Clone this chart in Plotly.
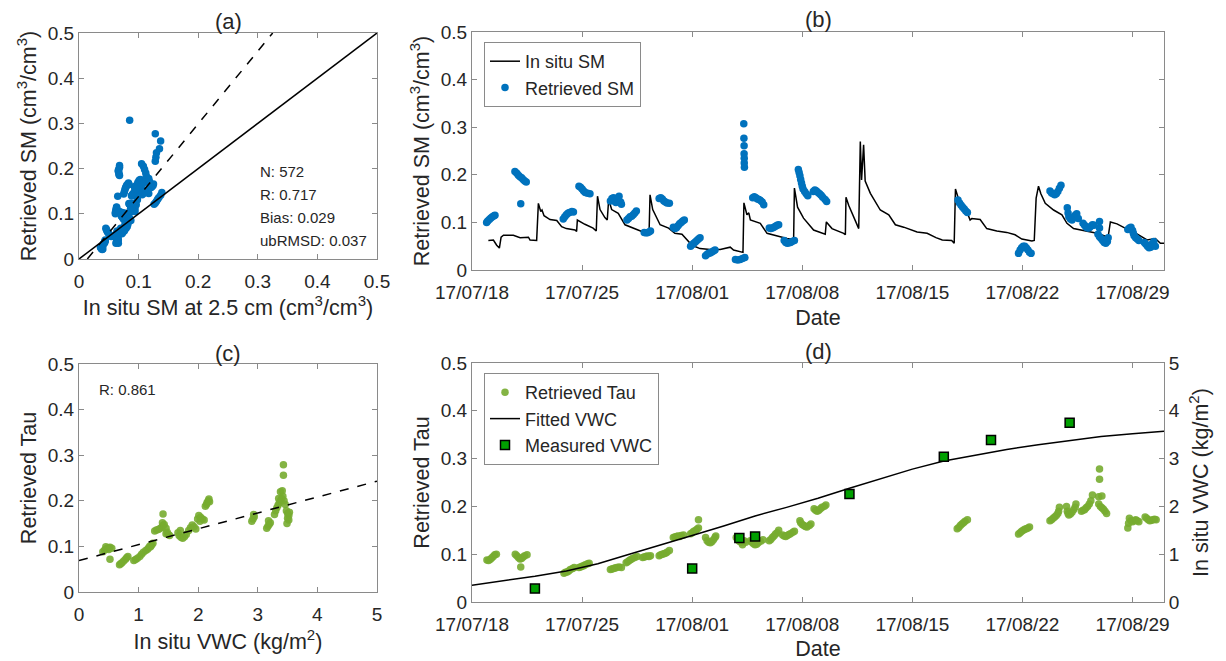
import numpy as np
import pandas as pd
import plotly.graph_objects as go

start = pd.Timestamp("2017-07-18")

# ---- (b) in situ SM time series (day offset from 17/07/18, cm3/cm3)
insitu_day = [1.04, 1.36, 1.57, 1.74, 1.85, 2.0, 2.63, 3.06, 3.59, 3.69, 4.11, 4.22, 4.37, 4.45, 4.58,
              4.96, 5.39, 5.7, 6.0, 6.55, 6.65, 6.7, 7.18, 7.7, 7.9, 7.98, 8.14, 8.45, 8.6, 8.69, 8.88,
              9.3, 9.73, 10.26, 10.79, 11.26, 11.32, 11.49, 11.96, 12.5, 12.9, 13.35, 13.67, 13.99, 14.5,
              15.14, 15.78, 16.42, 16.63, 17.23, 17.29, 17.48, 17.6, 17.7, 18.33, 18.76, 19.6, 20.03,
              20.45, 20.5, 20.7, 21.08, 21.72, 22.46, 22.53, 22.89, 23.63, 23.74, 23.78, 23.95, 24.59,
              24.69, 24.77, 24.9, 25.0, 25.33, 25.96, 26.5, 26.92, 27.45, 28.3, 28.94, 29.5, 29.9, 30.5,
              30.66, 30.74, 30.93, 31.46, 31.67, 31.78, 32.31, 32.73, 33.37, 34.0, 34.53, 34.96, 35.6,
              35.75, 35.87, 36.02, 36.17, 36.45, 36.98, 37.51, 37.83, 38.25, 39.1, 39.74, 40.37, 40.45,
              40.59, 41.01, 41.65, 42.28, 42.92, 43.45, 43.77, 44.02]
insitu_sm = [0.062, 0.063, 0.052, 0.046, 0.069, 0.073, 0.073, 0.068, 0.069, 0.063, 0.062, 0.140, 0.123, 0.126, 0.114,
             0.106, 0.104, 0.091, 0.087, 0.084, 0.081, 0.105, 0.096, 0.088, 0.082, 0.155, 0.127, 0.110, 0.105, 0.148, 0.127,
             0.119, 0.095, 0.088, 0.081, 0.080, 0.158, 0.127, 0.095, 0.088, 0.077, 0.075, 0.063, 0.052, 0.045,
             0.043, 0.043, 0.048, 0.042, 0.037, 0.141, 0.116, 0.120, 0.105, 0.098, 0.077, 0.070, 0.066,
             0.064, 0.172, 0.132, 0.109, 0.084, 0.075, 0.101, 0.087, 0.077, 0.074, 0.153, 0.136, 0.087,
             0.270, 0.189, 0.263, 0.187, 0.161, 0.126, 0.116, 0.095, 0.090, 0.080, 0.077, 0.068, 0.063, 0.062,
             0.056, 0.170, 0.150, 0.123, 0.105, 0.108, 0.106, 0.087, 0.082, 0.079, 0.074, 0.065, 0.061,
             0.062, 0.151, 0.176, 0.160, 0.140, 0.126, 0.116, 0.098, 0.087, 0.082, 0.077, 0.070, 0.070,
             0.101, 0.097, 0.086, 0.076, 0.063, 0.066, 0.056, 0.056]

# ---- retrieved SM: time (day offset), retrieved value, in situ value at that time (panel a)
sm_day = [0.93, 1.0, 1.1, 1.2, 1.3, 1.4, 1.46,
          2.73, 2.85, 2.95, 3.05, 3.1, 3.15, 3.25, 3.35, 3.45,
          5.8, 5.9, 6.0, 6.1, 6.2, 6.35, 6.45,
          6.8, 6.9, 7.0, 7.1, 7.2, 7.35, 7.5,
          8.8, 8.9, 9.0, 9.05, 9.15, 9.25, 9.35, 9.45, 9.5,
          9.85, 9.95, 10.05, 10.15, 10.25, 10.35, 10.45,
          10.95, 11.05, 11.15, 11.25, 11.35,
          11.9, 12.0, 12.1, 12.2, 12.3, 12.4, 12.55,
          12.8, 12.9, 13.0, 13.1, 13.2, 13.3, 13.4, 13.5,
          13.9, 14.0, 14.1, 14.2, 14.3, 14.4, 14.5,
          14.85, 14.95, 15.05, 15.15, 15.25, 15.35, 15.45,
          16.75, 16.9, 17.05, 17.2, 17.35,
          17.28, 17.29, 17.30, 17.30, 17.31, 17.31, 17.32,
          17.85, 17.95, 18.05, 18.15, 18.25, 18.35, 18.45, 18.55,
          18.9, 19.0, 19.1, 19.2, 19.3, 19.4, 19.5,
          19.85, 19.95, 20.05, 20.15, 20.25, 20.35, 20.5,
          20.75, 20.8, 20.85, 20.9, 20.95, 21.0, 21.05, 21.15, 21.25, 21.35,
          21.7, 21.8, 21.9, 22.0, 22.1, 22.2, 22.3, 22.45, 22.55,
          30.9, 31.0, 31.1, 31.2, 31.3, 31.4, 31.5,
          34.75, 34.85, 34.95, 35.05, 35.15, 35.25, 35.35, 35.45, 35.55,
          36.75, 36.85, 36.95, 37.05, 37.15, 37.25, 37.35, 37.45,
          37.85, 37.9, 37.95, 38.05, 38.15, 38.25, 38.35, 38.45, 38.55,
          38.85, 38.95, 39.05, 39.15, 39.25, 39.35, 39.45, 39.55,
          39.9, 39.9, 39.8, 39.9, 40.0, 40.1, 40.2, 40.3, 40.4, 40.45,
          41.7, 41.8, 41.9, 42.0, 42.05, 42.1, 42.2, 42.3, 42.4,
          42.75, 42.85, 42.95, 43.05, 43.15, 43.25, 43.35, 43.45]
sm_retrieved = [0.100, 0.103, 0.106, 0.109, 0.112, 0.114, 0.115,
                0.207, 0.203, 0.199, 0.196, 0.139, 0.194, 0.190, 0.187, 0.185,
                0.107, 0.112, 0.116, 0.119, 0.121, 0.123, 0.122,
                0.176, 0.174, 0.170, 0.166, 0.163, 0.161, 0.160,
                0.145, 0.150, 0.152, 0.145, 0.142, 0.148, 0.155, 0.143, 0.138,
                0.105, 0.108, 0.112, 0.113, 0.116, 0.120, 0.124,
                0.079, 0.078, 0.078, 0.080, 0.082,
                0.150, 0.152, 0.149, 0.145, 0.143, 0.141, 0.140,
                0.090, 0.087, 0.089, 0.093, 0.097, 0.100, 0.103, 0.105,
                0.050, 0.053, 0.056, 0.059, 0.062, 0.065, 0.068,
                0.030, 0.033, 0.035, 0.036, 0.038, 0.040, 0.042,
                0.022, 0.021, 0.022, 0.024, 0.026,
                0.307, 0.277, 0.261, 0.244, 0.235, 0.225, 0.216,
                0.152, 0.154, 0.152, 0.149, 0.148, 0.146, 0.143, 0.137,
                0.088, 0.087, 0.088, 0.090, 0.092, 0.094, 0.095,
                0.062, 0.058, 0.056, 0.057, 0.058, 0.060, 0.062,
                0.211, 0.205, 0.198, 0.190, 0.183, 0.176, 0.170, 0.165, 0.160, 0.156,
                0.165, 0.168, 0.166, 0.163, 0.160, 0.157, 0.153, 0.148, 0.144,
                0.147, 0.141, 0.136, 0.132, 0.128, 0.124, 0.121,
                0.035, 0.042, 0.047, 0.050, 0.050, 0.046, 0.042, 0.037, 0.035,
                0.166, 0.162, 0.160, 0.158, 0.160, 0.165, 0.172, 0.178,
                0.131, 0.120, 0.112, 0.107, 0.105, 0.110, 0.115, 0.118, 0.108,
                0.098, 0.094, 0.090, 0.088, 0.089, 0.092, 0.095, 0.094,
                0.102, 0.088, 0.075, 0.070, 0.066, 0.062, 0.058, 0.056, 0.060, 0.068,
                0.085, 0.088, 0.090, 0.083, 0.077, 0.072, 0.068, 0.065, 0.062,
                0.058, 0.054, 0.050, 0.047, 0.048, 0.055, 0.060, 0.050]
sm_insitu = [0.061, 0.061, 0.062, 0.062, 0.063, 0.063, 0.063,
             0.068, 0.068, 0.067, 0.066, 0.065, 0.066, 0.067, 0.067, 0.068,
             0.090, 0.089, 0.087, 0.086, 0.085, 0.084, 0.084,
             0.103, 0.101, 0.099, 0.098, 0.097, 0.095, 0.093,
             0.117, 0.113, 0.110, 0.108, 0.106, 0.104, 0.102, 0.100, 0.098,
             0.094, 0.092, 0.091, 0.090, 0.089, 0.088, 0.088,
             0.081, 0.080, 0.080, 0.080, 0.080,
             0.096, 0.094, 0.093, 0.091, 0.090, 0.089, 0.088,
             0.079, 0.077, 0.077, 0.076, 0.076, 0.075, 0.072, 0.068,
             0.054, 0.052, 0.050, 0.048, 0.047, 0.046, 0.045,
             0.040, 0.041, 0.042, 0.043, 0.043, 0.044, 0.044,
             0.040, 0.039, 0.038, 0.037, 0.036,
             0.085, 0.128, 0.137, 0.135, 0.130, 0.129, 0.128,
             0.105, 0.104, 0.102, 0.101, 0.100, 0.099, 0.098, 0.097,
             0.078, 0.076, 0.075, 0.074, 0.073, 0.072, 0.071,
             0.067, 0.066, 0.066, 0.065, 0.065, 0.064, 0.064,
             0.105, 0.108, 0.110, 0.112, 0.113, 0.112, 0.110, 0.106, 0.100, 0.096,
             0.084, 0.083, 0.082, 0.080, 0.079, 0.078, 0.077, 0.076, 0.075,
             0.139, 0.137, 0.134, 0.132, 0.130, 0.128, 0.126,
             0.066, 0.066, 0.065, 0.065, 0.064, 0.064, 0.063, 0.063, 0.062,
             0.125, 0.124, 0.122, 0.121, 0.120, 0.119, 0.118, 0.117,
             0.098, 0.096, 0.094, 0.092, 0.090, 0.089, 0.088, 0.087, 0.086,
             0.083, 0.082, 0.082, 0.081, 0.080, 0.079, 0.078, 0.077,
             0.076, 0.076, 0.077, 0.076, 0.075, 0.074, 0.073, 0.072, 0.071, 0.070,
             0.087, 0.086, 0.085, 0.083, 0.082, 0.081, 0.079, 0.077, 0.076,
             0.064, 0.064, 0.063, 0.063, 0.065, 0.066, 0.065, 0.060]

# (a) reference lines
one_to_one = [0.0, 0.5]
fit_sm_x = [0.014, 0.325]
fit_sm_y = [0.0, 0.5]
stats_a = ["N: 572", "R: 0.717", "Bias: 0.029", "ubRMSD: 0.037"]

# ---- (c) in situ VWC vs retrieved tau
c_vwc = [0.40, 0.43, 0.46, 0.49, 0.52, 0.55, 0.45, 0.50, 0.52,
         0.68, 0.70, 0.72, 0.75, 0.78, 0.80, 0.82,
         0.92, 0.95, 0.98, 1.02, 1.05, 1.08, 1.12, 1.15,
         1.17, 1.20, 1.22, 1.24, 1.19,
         1.27, 1.30, 1.33, 1.36, 1.39, 1.41, 1.41,
         1.40, 1.43, 1.46, 1.48, 1.50, 1.52, 1.46,
         1.66, 1.68, 1.71, 1.74, 1.77, 1.80, 1.70,
         1.84, 1.87, 1.90, 1.93, 1.96,
         1.99, 2.01, 2.04, 2.07, 2.10, 2.03,
         2.12, 2.14, 2.15, 2.17, 2.18, 2.19,
         2.90, 2.92, 2.94, 2.93,
         3.15, 3.17, 3.19, 3.21, 3.18,
         3.28, 3.30, 3.32, 3.34, 3.36, 3.38, 3.40, 3.42, 3.38, 3.44, 3.46, 3.35, 3.43, 3.43, 3.41,
         3.48, 3.50, 3.52, 3.50, 3.52, 3.49, 3.53]
c_tau = [0.088, 0.092, 0.095, 0.097, 0.098, 0.096, 0.099, 0.093, 0.072,
         0.060, 0.062, 0.064, 0.068, 0.072, 0.075, 0.078,
         0.069, 0.071, 0.074, 0.078, 0.083, 0.087, 0.091, 0.094,
         0.097, 0.099, 0.103, 0.107, 0.101,
         0.134, 0.136, 0.137, 0.139, 0.142, 0.146, 0.171,
         0.152, 0.148, 0.140, 0.131, 0.126, 0.124, 0.128,
         0.130, 0.124, 0.120, 0.118, 0.121, 0.126, 0.135,
         0.135, 0.141, 0.147, 0.143, 0.138,
         0.160, 0.168, 0.164, 0.160, 0.158, 0.155,
         0.188, 0.192, 0.196, 0.200, 0.204, 0.198,
         0.155, 0.160, 0.165, 0.170,
         0.140, 0.144, 0.148, 0.152, 0.156,
         0.170, 0.178, 0.185, 0.190, 0.195, 0.200, 0.205, 0.210, 0.220, 0.200, 0.192, 0.205, 0.279, 0.256, 0.222,
         0.178, 0.172, 0.168, 0.162, 0.158, 0.150, 0.175]
fit_tau_x = [0.0, 5.0]
fit_tau_y = [0.069, 0.243]

# ---- (d) retrieved tau time series
tau_day = [0.95, 1.05, 1.15, 1.25, 1.35, 1.45, 1.55,
           2.75, 2.85, 2.95, 3.05, 3.1, 3.15, 3.25, 3.35, 3.5,
           5.85, 5.95, 6.05, 6.15, 6.25, 6.4, 6.5,
           6.8, 6.9, 7.0, 7.1, 7.2, 7.35, 7.45,
           8.8, 8.9, 9.0, 9.1, 9.2, 9.35, 9.5,
           9.8, 9.9, 10.0, 10.1, 10.2, 10.35, 10.5,
           10.85, 10.95, 11.05, 11.15, 11.25, 11.35,
           11.9, 12.0, 12.1, 12.2, 12.3, 12.4, 12.55,
           12.8, 12.9, 13.0, 13.1, 13.2, 13.3, 13.45,
           13.9, 14.0, 14.1, 14.2, 14.3, 14.4, 14.4,
           14.85, 14.95, 15.05, 15.15, 15.25, 15.35, 15.45, 15.5,
           16.8, 16.9, 17.0, 17.1, 17.2, 17.3, 17.4,
           17.7, 17.8, 17.9, 18.0, 18.1, 18.2, 18.35, 18.5,
           18.9, 19.0, 19.1, 19.2, 19.3, 19.4, 19.5,
           19.75, 19.85, 19.95, 20.05, 20.15, 20.25, 20.4, 20.5,
           20.85, 20.9, 21.0, 21.1, 21.2, 21.3, 21.45, 21.55,
           21.75, 21.85, 21.95, 22.05, 22.15, 22.25, 22.4, 22.5,
           30.85, 30.95, 31.05, 31.15, 31.25, 31.35, 31.5,
           34.75, 34.85, 34.95, 35.05, 35.15, 35.25, 35.35, 35.45,
           36.75, 36.85, 36.95, 37.05, 37.15, 37.25, 37.3, 37.35,
           37.8, 37.85, 37.9, 37.95, 38.05, 38.15, 38.25, 38.35, 38.4,
           38.75, 38.85, 38.95, 39.05, 39.15, 39.25, 39.35, 39.45,
           39.9, 39.9, 39.85, 40.05, 39.85, 39.95, 40.05, 40.15, 40.25, 40.35,
           41.7, 41.75, 41.8, 41.9, 42.0, 42.1, 42.2, 42.3, 42.4,
           42.8, 42.9, 43.0, 43.1, 43.2, 43.3, 43.4, 43.5]
tau_val = [0.088, 0.087, 0.089, 0.092, 0.095, 0.099, 0.100,
           0.100, 0.097, 0.093, 0.090, 0.073, 0.091, 0.094, 0.097, 0.099,
           0.060, 0.062, 0.063, 0.065, 0.068, 0.070, 0.072,
           0.072, 0.073, 0.075, 0.076, 0.078, 0.080, 0.081,
           0.068, 0.069, 0.070, 0.071, 0.072, 0.073, 0.072,
           0.082, 0.084, 0.087, 0.089, 0.091, 0.093, 0.095,
           0.093, 0.094, 0.095, 0.096, 0.095, 0.097,
           0.097, 0.099, 0.100, 0.101, 0.102, 0.104, 0.108,
           0.135, 0.136, 0.137, 0.138, 0.137, 0.139, 0.140,
           0.143, 0.145, 0.148, 0.149, 0.152, 0.155, 0.172,
           0.135, 0.128, 0.125, 0.124, 0.126, 0.130, 0.135, 0.138,
           0.135, 0.130, 0.127, 0.125, 0.120, 0.128, 0.125,
           0.128, 0.125, 0.122, 0.120, 0.121, 0.124, 0.127, 0.130,
           0.128, 0.131, 0.135, 0.138, 0.142, 0.145, 0.150,
           0.140, 0.138, 0.137, 0.139, 0.141, 0.143, 0.146, 0.148,
           0.170, 0.166, 0.162, 0.160, 0.158, 0.157, 0.160, 0.163,
           0.195, 0.192, 0.190, 0.192, 0.195, 0.198, 0.200, 0.203,
           0.153, 0.156, 0.160, 0.163, 0.166, 0.169, 0.172,
           0.142, 0.145, 0.148, 0.150, 0.152, 0.153, 0.155, 0.157,
           0.170, 0.172, 0.175, 0.178, 0.181, 0.185, 0.190, 0.198,
           0.200, 0.190, 0.185, 0.182, 0.184, 0.188, 0.193, 0.198, 0.205,
           0.190, 0.192, 0.193, 0.197, 0.200, 0.205, 0.212, 0.224,
           0.278, 0.257, 0.220, 0.222, 0.205, 0.200, 0.197, 0.194, 0.190, 0.185,
           0.155, 0.165, 0.175, 0.170, 0.168, 0.170, 0.172, 0.170, 0.168,
           0.178, 0.175, 0.172, 0.170, 0.171, 0.172, 0.173, 0.172]

# fitted and measured VWC (kg/m2)
fit_day = [0, 2, 4, 6, 8, 10, 12, 14, 16, 18, 20, 22, 24, 26, 28, 30, 32, 34, 36, 38, 40, 42, 44]
fit_vwc = [0.35, 0.44, 0.54, 0.65, 0.80, 1.00, 1.19, 1.39, 1.59, 1.80, 1.98, 2.17, 2.38, 2.58, 2.78,
           2.95, 3.07, 3.19, 3.29, 3.38, 3.46, 3.52, 3.57]
meas_day = [4.0, 14.0, 17.0, 18.0, 24.0, 30.0, 33.0, 38.0]
meas_vwc = [0.28, 0.70, 1.34, 1.37, 2.26, 3.04, 3.39, 3.75]


def to_dates(days):
    return start + pd.to_timedelta(np.array(days, dtype=float), unit="D")


blue = "#0072BD"
green = "#77AC30"
text_col = "#262626"
axis_col = "#8a8a8a"
font_family = "Liberation Sans, Arial, sans-serif"

fig = go.Figure()

# (a)
fig.add_trace(go.Scatter(x=sm_insitu, y=sm_retrieved, mode="markers", xaxis="x", yaxis="y",
                         marker=dict(color=blue, size=7.5), showlegend=False))
fig.add_trace(go.Scatter(x=one_to_one, y=one_to_one, mode="lines", xaxis="x", yaxis="y",
                         line=dict(color="black", width=1.5), showlegend=False))
fig.add_trace(go.Scatter(x=fit_sm_x, y=fit_sm_y, mode="lines", xaxis="x", yaxis="y",
                         line=dict(color="black", width=1.5, dash="dash"), showlegend=False))

# (b)
fig.add_trace(go.Scatter(x=to_dates(insitu_day), y=insitu_sm, mode="lines", xaxis="x2", yaxis="y2",
                         name="In situ SM", line=dict(color="black", width=1.5), legend="legend"))
fig.add_trace(go.Scatter(x=to_dates(sm_day), y=sm_retrieved, mode="markers", xaxis="x2", yaxis="y2",
                         name="Retrieved SM", marker=dict(color=blue, size=7.5), legend="legend"))

# (c)
fig.add_trace(go.Scatter(x=c_vwc, y=c_tau, mode="markers", xaxis="x3", yaxis="y3",
                         marker=dict(color=green, size=7.5, opacity=0.9), showlegend=False))
fig.add_trace(go.Scatter(x=fit_tau_x, y=fit_tau_y, mode="lines", xaxis="x3", yaxis="y3",
                         line=dict(color="black", width=1.5, dash="dash"), showlegend=False))

# (d)
fig.add_trace(go.Scatter(x=to_dates(tau_day), y=tau_val, mode="markers", xaxis="x4", yaxis="y4",
                         name="Retrieved Tau", marker=dict(color=green, size=7.5, opacity=0.9),
                         legend="legend2"))
fig.add_trace(go.Scatter(x=to_dates(fit_day), y=fit_vwc, mode="lines", xaxis="x4", yaxis="y5",
                         name="Fitted VWC", line=dict(color="black", width=1.5), legend="legend2"))
fig.add_trace(go.Scatter(x=to_dates(meas_day), y=meas_vwc, mode="markers", xaxis="x4", yaxis="y5",
                         name="Measured VWC", legend="legend2",
                         marker=dict(symbol="square", color="#00A000", size=9,
                                     line=dict(color="black", width=1.5))))

# the page puts the figure 8 px in from the top-left corner
OFF = 8
W, H = 1226 - OFF, 661 - OFF


def px_x(x):
    return (x - OFF) / W


def px_y(y):
    return 1 - (y - OFF) / H


def dom_x(a, b):
    return [px_x(a), px_x(b)]


def dom_y(top, bottom):
    return [px_y(bottom), px_y(top)]


base = dict(showline=True, linecolor=axis_col, linewidth=1, mirror="ticks", ticks="inside",
            ticklen=5, tickcolor=axis_col, showgrid=False, zeroline=False, automargin=False,
            tickfont=dict(size=19, color=text_col), title_font=dict(size=21.5, color=text_col))
xbase = dict(base, ticklabelstandoff=5)
date_axis = dict(type="date", range=["2017-07-18", "2017-08-31"], tick0="2017-07-18",
                 dtick=7 * 86400000, tickformat="%y/%m/%d")

sm_unit = "(cm<sup>3</sup>/cm<sup>3</sup>)"
leg = dict(xanchor="left", yanchor="top", bgcolor="white", bordercolor=axis_col, borderwidth=1,
           font=dict(size=18, color=text_col))

fig.update_layout(
    width=W, height=H, margin=dict(l=0, r=0, t=0, b=0, autoexpand=False),
    paper_bgcolor="white", plot_bgcolor="white",
    font=dict(family=font_family, color=text_col, size=18),
    xaxis=dict(xbase, domain=dom_x(79, 377), anchor="y", range=[0, 0.5], dtick=0.1,
               title=dict(text="In situ SM at 2.5 cm " + sm_unit, standoff=0)),
    yaxis=dict(base, domain=dom_y(33, 259), anchor="x", range=[0, 0.5], dtick=0.1,
               title=dict(text="Retrieved SM " + sm_unit, standoff=5)),
    xaxis2=dict(xbase, **date_axis, domain=dom_x(472, 1164), anchor="y2",
                title=dict(text="Date", standoff=8)),
    yaxis2=dict(base, domain=dom_y(32, 270), anchor="x2", range=[0, 0.5], dtick=0.1,
                title=dict(text="Retrieved SM " + sm_unit, standoff=5)),
    xaxis3=dict(xbase, domain=dom_x(79, 377), anchor="y3", range=[0, 5], dtick=1,
                title=dict(text="In situ VWC (kg/m<sup>2</sup>)", standoff=10)),
    yaxis3=dict(base, domain=dom_y(364, 592), anchor="x3", range=[0, 0.5], dtick=0.1,
                title=dict(text="Retrieved Tau", standoff=5)),
    xaxis4=dict(xbase, **date_axis, domain=dom_x(472, 1164), anchor="y4",
                title=dict(text="Date", standoff=8)),
    yaxis4=dict(base, domain=dom_y(363, 602), anchor="x4", range=[0, 0.5], dtick=0.1, mirror=False,
                title=dict(text="Retrieved Tau", standoff=5)),
    yaxis5=dict(base, overlaying="y4", side="right", anchor="x4", range=[0, 5], dtick=1, mirror=False,
                title=dict(text="In situ VWC (kg/m<sup>2</sup>)", standoff=14)),
    legend=dict(leg, x=px_x(484), y=px_y(42)),
    legend2=dict(leg, x=px_x(484), y=px_y(373)),
)

# panel labels
for label, xc, yc in [("(a)", 228, 22), ("(b)", 818, 20), ("(c)", 228, 353), ("(d)", 818, 351)]:
    fig.add_annotation(text=label, x=px_x(xc), y=px_y(yc), xref="paper", yref="paper",
                       showarrow=False, xanchor="center", yanchor="middle",
                       font=dict(size=22, color=text_col))

# statistics in (a)
for txt, yv in zip(stats_a, [0.193, 0.143, 0.092, 0.042]):
    fig.add_annotation(text=txt, x=0.30, y=yv, xref="x", yref="y", showarrow=False,
                       xanchor="left", yanchor="middle", font=dict(size=15, color=text_col))

fig.add_annotation(text="R: 0.861", x=0.30, y=0.443, xref="x3", yref="y3", showarrow=False,
                   xanchor="left", yanchor="middle", font=dict(size=15, color=text_col))

fig.write_html("out.html")
